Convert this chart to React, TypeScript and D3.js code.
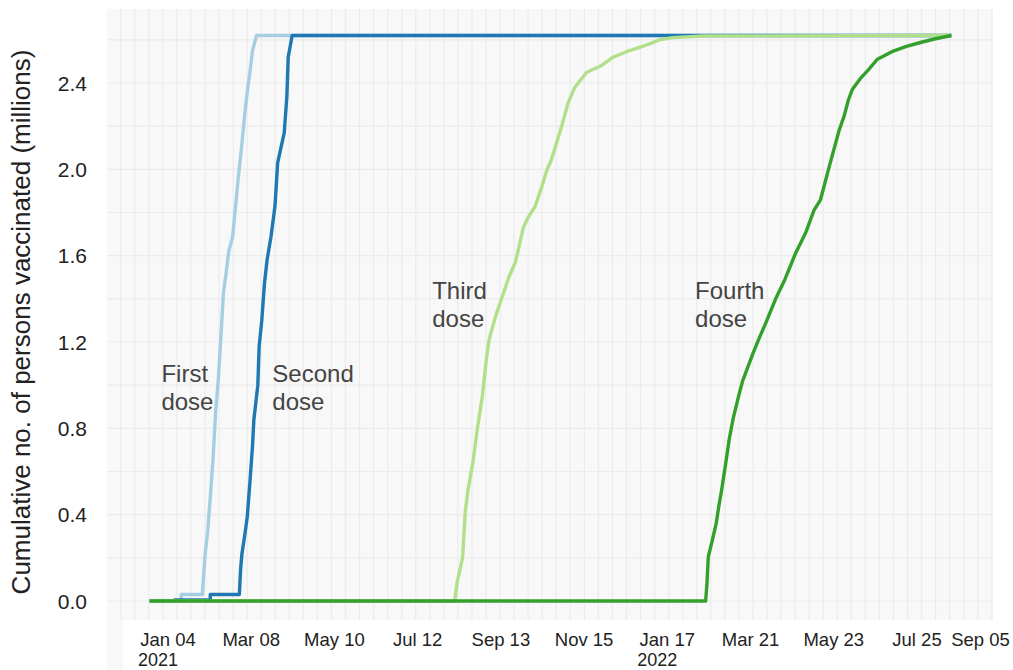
import React from "react";
import * as d3 from "d3";

// ---------- data ----------
type Pt = [string, number];

const firstDose: Pt[] = [
  ["2020-12-21", 0], ["2021-01-14", 0], ["2021-01-14", 0.03], ["2021-01-30", 0.03], ["2021-02-01", 0.21],
  ["2021-02-03", 0.32], ["2021-02-05", 0.48], ["2021-02-07", 0.65], ["2021-02-09", 0.87],
  ["2021-02-11", 1.02], ["2021-02-13", 1.22], ["2021-02-15", 1.43], ["2021-02-17", 1.52],
  ["2021-02-19", 1.62], ["2021-02-22", 1.69], ["2021-02-24", 1.82], ["2021-02-26", 1.95],
  ["2021-03-01", 2.12], ["2021-03-03", 2.25], ["2021-03-05", 2.36], ["2021-03-07", 2.45],
  ["2021-03-09", 2.55], ["2021-03-12", 2.62], ["2022-08-20", 2.62],
];

const secondDose: Pt[] = [
  ["2020-12-21", 0], ["2021-01-09", 0], ["2021-01-09", 0.005], ["2021-02-05", 0.005], ["2021-02-05", 0.03],
  ["2021-02-27", 0.03], ["2021-02-28", 0.15], ["2021-03-01", 0.22], ["2021-03-03", 0.3], ["2021-03-05", 0.39],
  ["2021-03-07", 0.55], ["2021-03-09", 0.72], ["2021-03-10", 0.84], ["2021-03-13", 1.0],
  ["2021-03-14", 1.18], ["2021-03-16", 1.3], ["2021-03-18", 1.47], ["2021-03-20", 1.58],
  ["2021-03-23", 1.69], ["2021-03-26", 1.83], ["2021-03-28", 2.03], ["2021-04-02", 2.17],
  ["2021-04-04", 2.34], ["2021-04-05", 2.52], ["2021-04-08", 2.62], ["2022-08-20", 2.62],
];

const thirdDose: Pt[] = [
  ["2020-12-21", 0], ["2021-08-09", 0], ["2021-08-11", 0.09], ["2021-08-15", 0.2],
  ["2021-08-17", 0.41], ["2021-08-19", 0.51], ["2021-08-23", 0.65], ["2021-08-26", 0.79],
  ["2021-08-30", 0.95], ["2021-09-02", 1.12], ["2021-09-04", 1.21], ["2021-09-09", 1.32],
  ["2021-09-14", 1.41], ["2021-09-19", 1.5], ["2021-09-24", 1.57], ["2021-09-30", 1.73],
  ["2021-10-03", 1.77], ["2021-10-09", 1.83], ["2021-10-14", 1.92], ["2021-10-18", 2.0],
  ["2021-10-21", 2.04], ["2021-10-25", 2.12], ["2021-10-29", 2.2], ["2021-11-03", 2.31],
  ["2021-11-08", 2.38], ["2021-11-17", 2.45], ["2021-11-28", 2.48], ["2021-12-07", 2.52],
  ["2021-12-17", 2.545], ["2021-12-27", 2.565], ["2022-01-03", 2.58], ["2022-01-11", 2.6],
  ["2022-01-21", 2.61], ["2022-02-13", 2.618], ["2022-08-20", 2.62],
];

const fourthDose: Pt[] = [
  ["2020-12-21", 0], ["2022-02-15", 0], ["2022-02-16", 0.08], ["2022-02-17", 0.205],
  ["2022-02-20", 0.28], ["2022-02-23", 0.36], ["2022-02-25", 0.44], ["2022-02-27", 0.51],
  ["2022-03-02", 0.63], ["2022-03-05", 0.755], ["2022-03-08", 0.85], ["2022-03-12", 0.95],
  ["2022-03-15", 1.02], ["2022-03-19", 1.085], ["2022-03-23", 1.15], ["2022-03-27", 1.21],
  ["2022-04-02", 1.295], ["2022-04-09", 1.4], ["2022-04-16", 1.49], ["2022-04-24", 1.61],
  ["2022-05-02", 1.71], ["2022-05-08", 1.81], ["2022-05-13", 1.86], ["2022-05-19", 2.0],
  ["2022-05-23", 2.09], ["2022-05-27", 2.18], ["2022-05-31", 2.25], ["2022-06-03", 2.32],
  ["2022-06-06", 2.37], ["2022-06-12", 2.42], ["2022-06-18", 2.46], ["2022-06-25", 2.51],
  ["2022-07-06", 2.545], ["2022-07-17", 2.57], ["2022-07-29", 2.59], ["2022-08-08", 2.605],
  ["2022-08-20", 2.62],
];

const seriesNames = ["First dose", "Second dose", "Third dose", "Fourth dose"];
const seriesColors = ["#a6cee3", "#1f78b4", "#b2df8a", "#33a02c"];
const seriesData = [firstDose, secondDose, thirdDose, fourthDose];

const xTickDates = [
  "2021-01-04", "2021-03-08", "2021-05-10", "2021-07-12", "2021-09-13", "2021-11-15",
  "2022-01-17", "2022-03-21", "2022-05-23", "2022-07-25", "2022-09-05",
];
const yTicks = [0, 0.4, 0.8, 1.2, 1.6, 2.0, 2.4];

// annotation: lines, date (left edge), value (baseline of first line)
const annotations: { lines: string[]; date: string; value: number }[] = [
  { lines: ["First", "dose"], date: "2020-12-30", value: 1.015 },
  { lines: ["Second", "dose"], date: "2021-03-24", value: 1.015 },
  { lines: ["Third", "dose"], date: "2021-07-23", value: 1.4 },
  { lines: ["Fourth", "dose"], date: "2022-02-07", value: 1.4 },
];

const yTitle = "Cumulative no. of persons vaccinated (millions)";

// ---------- layout ----------
const W = 1013;
const H = 670;
const panel = { left: 107, right: 993, top: 9, bottom: 620 };
const FONT = "'Liberation Sans', Arial, Helvetica, sans-serif";

const parse = (s: string) => {
  const [y, m, d] = s.split("-").map(Number);
  return new Date(Date.UTC(y, m - 1, d));
};

const x = d3
  .scaleUtc()
  .domain([parse("2021-01-04"), parse("2022-07-25")])
  .range([168, 917]);
const y = d3.scaleLinear().domain([0, 2.4]).range([601, 83]);

const fmtMonth = d3.utcFormat("%b %d");
const fmtYear = d3.utcFormat("%Y");

export default function App() {
  const line = d3
    .line<Pt>()
    .x((d) => x(parse(d[0])))
    .y((d) => y(d[1]))
    .curve(d3.curveLinear);

  const vGrid = d3.range(120.7, panel.right, 14.05);
  const hGrid = d3.range(0, 2.61, 0.2);

  return (
    <svg
      width={W}
      height={H}
      style={{ position: "absolute", left: 0, top: 0, display: "block", background: "#fff" }}
      fontFamily={FONT}
    >
      {/* panel background */}
      <rect x={panel.left} y={panel.top} width={panel.right - panel.left} height={H - panel.top} fill="#f8f8f8" />
      <rect x={123} y={panel.bottom} width={W - 123} height={H - panel.bottom} fill="#ffffff" />
      {/* grid */}
      {vGrid.map((gx, i) => (
        <line key={"v" + i} x1={gx} x2={gx} y1={panel.top} y2={panel.bottom} stroke="#ebebeb" strokeWidth={1.2} />
      ))}
      {hGrid.map((v, i) => (
        <line key={"h" + i} x1={panel.left} x2={panel.right} y1={y(v)} y2={y(v)} stroke="#ebebeb" strokeWidth={1.2} />
      ))}
      {/* series */}
      {seriesData.map((s, i) => (
        <path
          key={seriesNames[i]}
          d={line(s) || ""}
          fill="none"
          stroke={seriesColors[i]}
          strokeWidth={3.4}
          strokeLinejoin="round"
        />
      ))}
      {/* annotations */}
      {annotations.map((a) => (
        <text key={a.lines.join(" ")} x={x(parse(a.date))} y={y(a.value)} fontSize={24} fill="#444">
          {a.lines.map((t, j) => (
            <tspan key={j} x={x(parse(a.date))} dy={j === 0 ? 0 : 28}>
              {t}
            </tspan>
          ))}
        </text>
      ))}
      {/* y ticks */}
      {yTicks.map((v) => (
        <text key={v} x={87} y={y(v)} textAnchor="end" dominantBaseline="central" fontSize={21} fill="#222">
          {v.toFixed(1)}
        </text>
      ))}
      {/* x ticks */}
      {xTickDates.map((s, i) => {
        const d = parse(s);
        const prev = i > 0 ? parse(xTickDates[i - 1]) : null;
        const showYear = i === 0 || (prev && prev.getUTCFullYear() !== d.getUTCFullYear());
        const isLast = i === xTickDates.length - 1;
        const cx = x(d) + (isLast ? 8 : 0);
        return (
          <text key={s} x={cx} y={646} textAnchor="middle" fontSize={18.5} fill="#222">
            <tspan x={cx}>{fmtMonth(d)}</tspan>
            {showYear && (
              <tspan x={cx - 10} dy={20} fontSize={18}>
                {fmtYear(d)}
              </tspan>
            )}
          </text>
        );
      })}
      {/* y title */}
      <text
        transform={`translate(30,322) rotate(-90)`}
        textAnchor="middle"
        fontSize={26}
        fill="#222"
      >
        {yTitle}
      </text>
    </svg>
  );
}
